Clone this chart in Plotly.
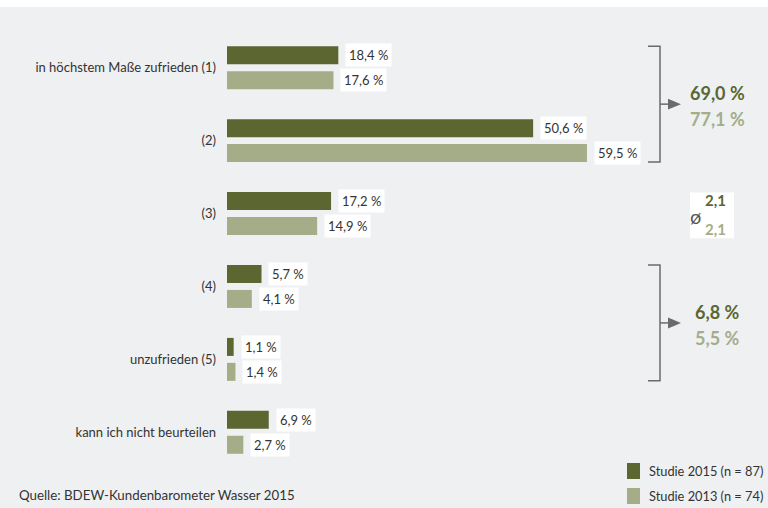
import plotly.graph_objects as go

categories = ["in höchstem Maße zufrieden (1)", "(2)", "(3)", "(4)", "unzufrieden (5)", "kann ich nicht beurteilen"]
s2015 = [18.4, 50.6, 17.2, 5.7, 1.1, 6.9]
s2013 = [17.6, 59.5, 14.9, 4.1, 1.4, 2.7]
name2015 = "Studie 2015 (n = 87)"
name2013 = "Studie 2013 (n = 74)"
top2_2015, top2_2013 = 69.0, 77.1
bottom2_2015, bottom2_2013 = 6.8, 5.5
avg2015, avg2013 = 2.1, 2.1
source = "Quelle: BDEW-Kundenbarometer Wasser 2015"

DARK = "#5b6630"
LIGHT = "#a5ad88"
BG = "#eff0f2"
TXT = "#333333"
GRAY = "#6b6b6b"
FONT = "Lato"

W, H = 768, 508
L, T, B = 227, 13, 21
XMAX = (W - L) / 6.05
off = 0.171
bw = 0.247

def de(v, d=1):
    return f"{v:.{d}f}".replace(".", ",")

def px(p):  # pixel x -> paper
    return (p - L) / (W - L)

def py(p):  # pixel y -> paper
    return (H - B - p) / (H - T - B)

y_dark = [i - off for i in range(len(categories))]
y_light = [i + off for i in range(len(categories))]

fig = go.Figure()
fig.add_trace(go.Bar(orientation="h", x=s2015, y=y_dark, width=bw, marker_color=DARK,
                     marker_line_width=0, name=name2015, showlegend=False))
fig.add_trace(go.Bar(orientation="h", x=s2013, y=y_light, width=bw, marker_color=LIGHT,
                     marker_line_width=0, name=name2013, showlegend=False))

ann = []
for v, y in list(zip(s2015, y_dark)) + list(zip(s2013, y_light)):
    ann.append(dict(x=v, y=y, xref="x", yref="y", text=de(v) + " %", showarrow=False,
                    xanchor="left", yanchor="middle", xshift=7, bgcolor="white", borderpad=3,
                    font=dict(family=FONT, size=13, color=TXT)))

shapes = []
# top white strip
shapes.append(dict(type="rect", xref="paper", yref="paper", x0=px(0), x1=px(W), y0=py(0), y1=py(7),
                   fillcolor="white", line_width=0, layer="below"))

bx = (660 - L) / 6.05
btick = (648 - L) / 6.05
ax1 = (668 - L) / 6.05
ax2 = (681 - L) / 6.05
tx = (717 - L) / 6.05

def bracket(i0, i1, v1, v2):
    ytop = i0 - off - bw / 2
    ybot = i1 + off + bw / 2
    ym = (i0 + i1) / 2
    shapes.append(dict(type="path", xref="x", yref="y",
                       path=f"M{btick},{ytop} L{bx},{ytop} L{bx},{ybot} L{btick},{ybot}",
                       line=dict(color=GRAY, width=1.5)))
    shapes.append(dict(type="line", xref="x", yref="y", x0=bx, x1=ax1, y0=ym, y1=ym,
                       line=dict(color=GRAY, width=1.5)))
    shapes.append(dict(type="path", xref="x", yref="y",
                       path=f"M{ax1},{ym-0.075} L{ax2},{ym} L{ax1},{ym+0.075} Z",
                       fillcolor=GRAY, line_width=0))
    ann.append(dict(x=tx, y=ym, xref="x", yref="y", text=f"<b>{de(v1)} %</b>", showarrow=False,
                    xanchor="center", yanchor="middle", yshift=11,
                    font=dict(family=FONT, size=18, color=DARK)))
    ann.append(dict(x=tx, y=ym, xref="x", yref="y", text=f"<b>{de(v2)} %</b>", showarrow=False,
                    xanchor="center", yanchor="middle", yshift=-15,
                    font=dict(family=FONT, size=18, color=LIGHT)))

bracket(0, 1, top2_2015, top2_2013)
bracket(3, 4, bottom2_2015, bottom2_2013)

# average box
shapes.append(dict(type="rect", xref="x", yref="y", x0=(690 - L) / 6.05, x1=(734 - L) / 6.05,
                   y0=2 - 0.29, y1=2 + 0.34, fillcolor="white", line_width=0))
ann.append(dict(x=(695 - L) / 6.05, y=2.04, xref="x", yref="y", text="ø", showarrow=False,
                xanchor="center", yanchor="middle", font=dict(family=FONT, size=20, color="#555555")))
ann.append(dict(x=(715 - L) / 6.05, y=2 - off - 0.02, xref="x", yref="y", text=f"<b>{de(avg2015)}</b>",
                showarrow=False, xanchor="center", yanchor="middle",
                font=dict(family=FONT, size=15, color=DARK)))
ann.append(dict(x=(715 - L) / 6.05, y=2 + off + 0.04, xref="x", yref="y", text=f"<b>{de(avg2013)}</b>",
                showarrow=False, xanchor="center", yanchor="middle",
                font=dict(family=FONT, size=15, color=LIGHT)))

# legend
for (y0, y1, col, name) in [(463, 479, DARK, name2015), (488, 504, LIGHT, name2013)]:
    shapes.append(dict(type="rect", xref="paper", yref="paper", x0=px(627), x1=px(640),
                       y0=py(y1), y1=py(y0), fillcolor=col, line_width=0))
    ann.append(dict(x=px(647), y=py((y0 + y1) / 2), xref="paper", yref="paper", text=name,
                    showarrow=False, xanchor="left", yanchor="middle",
                    font=dict(family=FONT, size=12.8, color=TXT)))

ann.append(dict(x=px(17), y=py(495), xref="paper", yref="paper", text=source, showarrow=False,
                xanchor="left", yanchor="middle", font=dict(family=FONT, size=13.3, color=TXT)))

fig.update_layout(
    width=W, height=H, margin=dict(l=L, r=0, t=T, b=B),
    paper_bgcolor=BG, plot_bgcolor=BG, barmode="overlay",
    xaxis=dict(range=[0, XMAX], visible=False, fixedrange=True),
    yaxis=dict(range=[len(categories) - 0.25, -0.75], tickvals=list(range(len(categories))),
               ticktext=categories, showgrid=False, zeroline=False, showline=False, ticks="",
               ticklabelstandoff=10, tickfont=dict(family=FONT, size=13, color=TXT)),
    annotations=ann, shapes=shapes, font=dict(family=FONT),
)
fig.write_html("out.html")
